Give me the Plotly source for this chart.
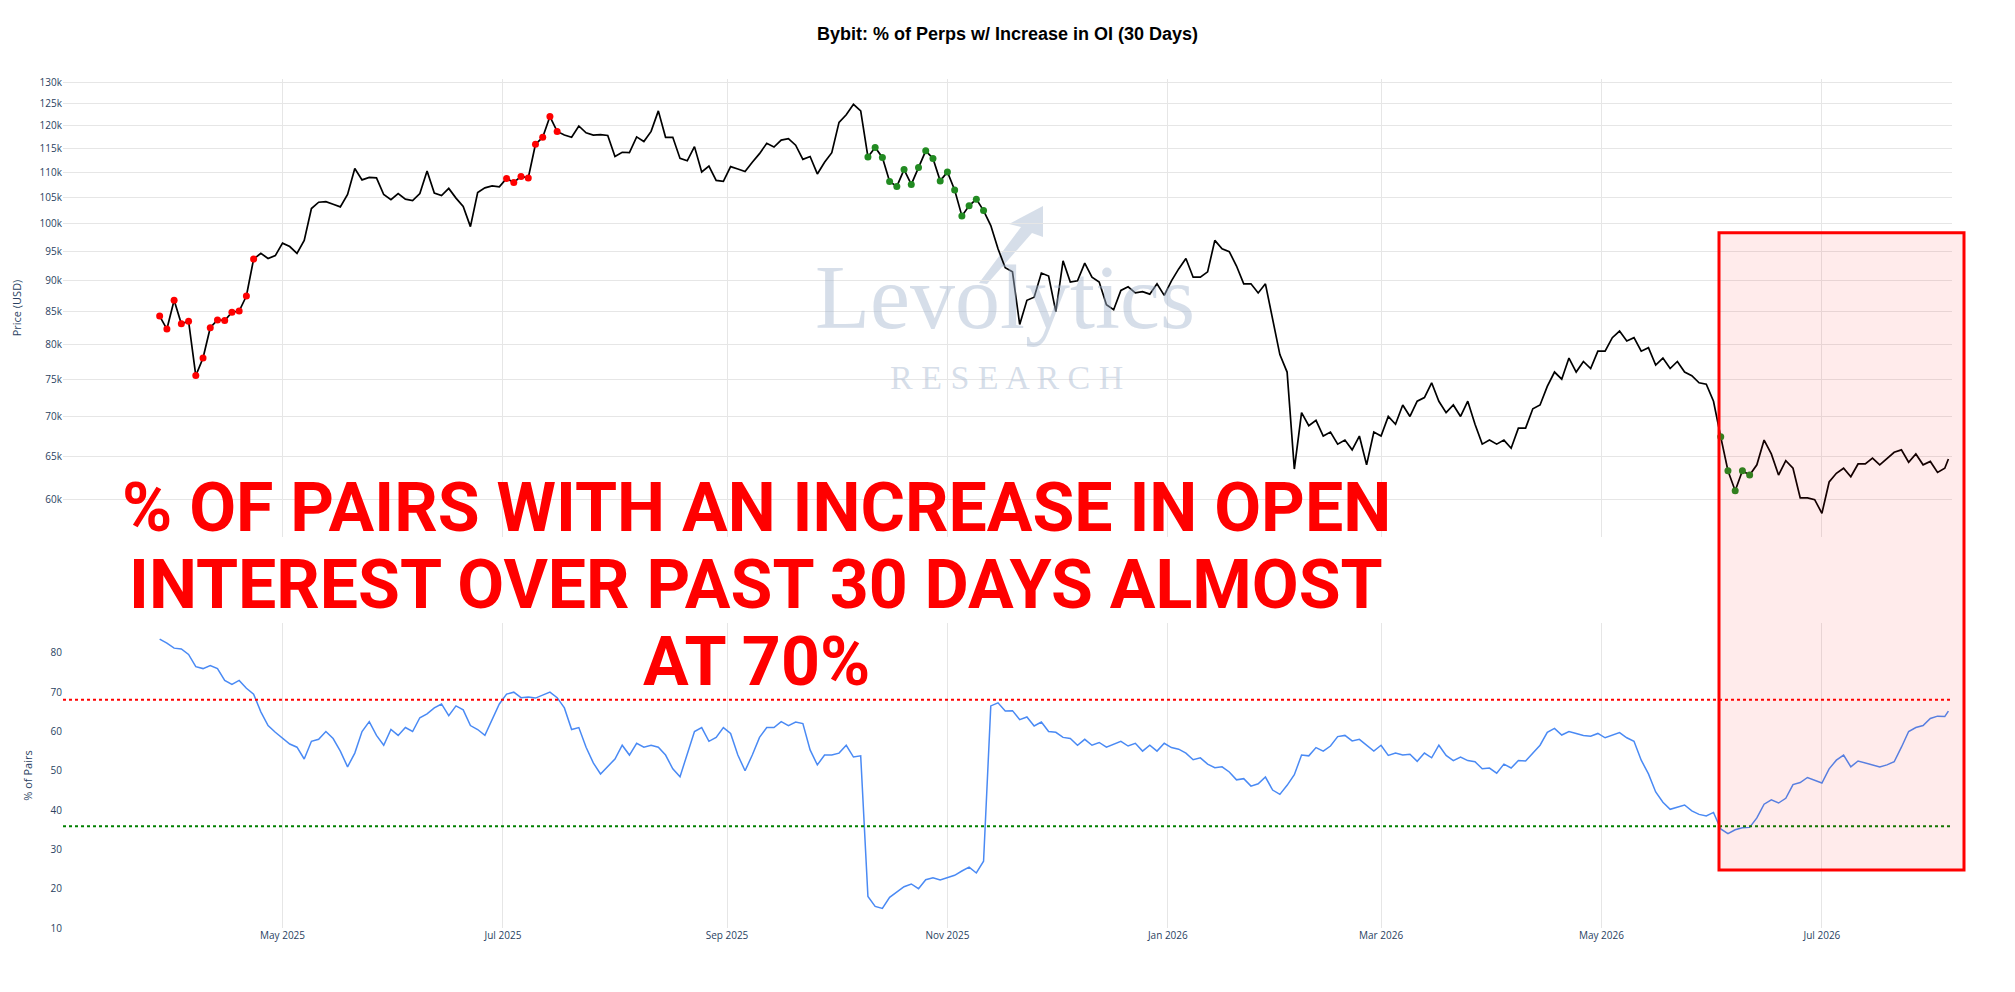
import pandas as pd
import plotly.graph_objects as go

# ---------------- data ----------------
dates = list(pd.date_range("2025-03-28", "2026-08-04", freq="2D")) + [pd.Timestamp("2026-08-05")]

price_k = [
    # 2025 Mar
    84.3, 82.3,
    # Apr
    86.8, 83.1, 83.5, 75.5, 78.0, 82.5, 83.7, 83.6, 84.9, 85.1, 87.5, 93.7, 94.7, 93.8, 94.3,
    # May
    96.5, 95.9, 94.7, 97.0, 102.9, 104.1, 104.2, 103.7, 103.2, 105.6, 110.8, 108.5, 109.0, 108.9, 105.6, 104.6,
    # Jun
    105.8, 104.7, 104.4, 105.8, 110.3, 105.9, 105.4, 106.8, 104.9, 103.3, 99.5, 106.0, 106.9, 107.3, 107.1,
    # Jul
    108.8, 108.0, 109.2, 108.9, 115.9, 117.4, 122.0, 118.7, 117.9, 117.4, 119.9, 118.4, 117.9, 118.0, 117.8,
    # Aug
    113.3, 114.2, 114.1, 117.5, 116.5, 118.7, 123.3, 117.4, 117.4, 112.9, 112.4, 115.4, 110.1, 111.3, 108.4, 108.2,
    # Sep
    111.2, 110.7, 110.2, 112.1, 113.9, 116.1, 115.3, 116.8, 117.1, 115.7, 112.7, 113.3, 109.7, 112.1, 114.1,
    # Oct
    120.7, 122.4, 124.8, 123.3, 113.2, 115.2, 113.1, 108.2, 107.2, 110.6, 107.6, 111.0, 114.5, 112.9, 108.3,
    # Nov
    110.1, 106.5, 101.5, 103.4, 104.7, 102.5, 99.7, 95.5, 92.2, 91.5, 83.0, 86.8, 87.3, 91.3, 90.8,
    # Dec
    85.0, 93.4, 89.8, 90.0, 93.0, 90.6, 89.8, 86.1, 85.3, 88.4, 89.0, 88.0, 88.2, 87.8, 89.5, 87.6,
    # 2026 Jan
    90.0, 92.0, 93.8, 90.6, 90.6, 91.5, 97.0, 95.5, 95.0, 92.5, 89.5, 89.5, 88.0, 89.5, 84.0,
    # Feb
    78.5, 76.0, 63.5, 70.5, 68.8, 69.5, 67.5, 68.0, 66.5, 67.0, 65.8, 67.5, 64.0, 68.0,
    # Mar
    67.5, 70.0, 69.0, 71.5, 70.0, 72.0, 72.5, 74.5, 72.0, 70.5, 71.5, 70.0, 72.0, 69.0, 66.5, 67.0,
    # Apr
    66.5, 67.0, 66.0, 68.5, 68.5, 71.0, 71.5, 74.0, 76.0, 75.0, 78.0, 76.0, 77.5, 76.5, 79.0,
    # May
    79.0, 81.0, 82.0, 80.5, 81.0, 79.0, 79.5, 77.0, 78.0, 76.5, 77.5, 76.0, 75.5, 74.5, 74.3,
    # Jun
    72.0, 67.4, 63.3, 61.0, 63.3, 62.8, 64.0, 67.0, 65.3, 62.8, 64.5, 63.6, 60.2, 60.2, 60.0,
    # Jul
    58.5, 62.0, 63.0, 63.6, 62.6, 64.1, 64.1, 64.8, 64.0, 64.8, 65.5, 65.8, 64.3, 65.3, 64.0, 64.4,
    # Aug
    63.1, 63.6, 64.7,
]

pct_pairs = [
    # 2025 Mar
    83.5, 82.5,
    # Apr
    81.2, 81.0, 79.6, 76.5, 76.0, 76.8, 76.0, 73.0, 72.0, 73.0, 71.0, 69.5, 65.0, 61.5, 59.8,
    # May
    58.2, 56.8, 56.0, 53.0, 57.5, 58.0, 60.0, 58.2, 55.0, 51.0, 54.5, 60.0, 62.5, 59.0, 56.5, 60.5,
    # Jun
    59.0, 61.0, 60.0, 63.5, 64.5, 66.0, 67.0, 64.0, 66.5, 65.5, 61.5, 60.5, 59.0, 63.0, 67.0,
    # Jul
    69.5, 70.0, 68.6, 68.8, 68.5, 69.3, 70.0, 68.6, 66.0, 60.5, 61.0, 56.0, 52.0, 49.2, 51.0,
    # Aug
    53.0, 56.5, 54.0, 57.0, 56.0, 56.5, 56.0, 54.0, 50.5, 48.5, 54.0, 60.0, 61.0, 57.5, 58.5, 61.0,
    # Sep
    59.5, 54.0, 50.0, 54.0, 58.5, 61.0, 61.0, 62.5, 61.5, 62.4, 62.0, 55.3, 51.5, 54.0, 54.0,
    # Oct
    54.5, 56.5, 53.5, 53.8, 18.0, 15.5, 15.0, 17.8, 19.2, 20.5, 21.2, 20.0, 22.3, 22.8, 22.2,
    # Nov
    22.8, 23.4, 24.5, 25.5, 24.0, 27.0, 66.5, 67.3, 65.2, 65.3, 63.0, 63.7, 61.4, 62.4, 60.0,
    # Dec
    59.8, 58.5, 58.2, 56.5, 58.0, 56.5, 57.2, 56.0, 56.8, 57.5, 56.3, 57.0, 55.0, 56.5, 55.0, 57.0,
    # 2026 Jan
    55.9, 55.5, 54.5, 52.8, 53.3, 51.7, 50.8, 51.0, 49.7, 47.7, 48.0, 46.1, 46.7, 48.4, 45.1,
    # Feb
    44.0, 46.3, 49.0, 54.0, 53.8, 55.9, 55.0, 56.3, 58.7, 59.0, 57.6, 58.0, 56.4, 55.0,
    # Mar
    56.5, 53.9, 54.5, 54.0, 54.2, 52.4, 54.5, 53.3, 56.5, 53.9, 52.6, 53.5, 52.6, 52.3, 50.5, 50.7,
    # Apr
    49.4, 51.7, 50.7, 52.6, 52.5, 54.4, 56.5, 59.8, 60.8, 59.1, 60.0, 59.5, 59.0, 58.8, 59.5,
    # May
    58.4, 59.1, 59.7, 58.4, 57.5, 52.7, 49.2, 44.6, 42.0, 40.2, 40.8, 41.3, 39.8, 38.9, 38.5,
    # Jun
    39.4, 35.2, 34.0, 35.0, 35.5, 35.6, 38.0, 41.5, 42.6, 41.8, 43.0, 46.5, 47.0, 48.3, 47.5,
    # Jul
    46.9, 50.5, 52.7, 54.0, 51.0, 52.5, 52.0, 51.5, 51.0, 51.5, 52.3, 56.0, 60.0, 61.0, 61.5, 63.3,
    # Aug
    63.9, 63.8, 65.2,
]

assert len(dates) == len(price_k) == len(pct_pairs), (len(dates), len(price_k), len(pct_pairs))

UPPER_LEVEL = 68.1
LOWER_LEVEL = 35.9

price_tick_k = [60, 65, 70, 75, 80, 85, 90, 95, 100, 105, 110, 115, 120, 125, 130]
price_tick_labels = [f"{v}k" for v in price_tick_k]
pct_ticks = [10, 20, 30, 40, 50, 60, 70, 80]

TITLE = "Bybit: % of Perps w/ Increase in OI (30 Days)"
CALLOUT_LINES = ["% OF PAIRS WITH AN INCREASE IN OPEN",
                 "INTEREST OVER PAST 30 DAYS ALMOST",
                 "AT 70%"]

# ---------------- derived ----------------
price = [p * 1000 for p in price_k]
red_i = [i for i, q in enumerate(pct_pairs) if q > UPPER_LEVEL]
green_i = [i for i, q in enumerate(pct_pairs) if q < LOWER_LEVEL]

# ---------------- geometry ----------------
W, H = 2015, 992
ML, MR, MT, MB = 63, 63, 79, 64
PW, PH = W - ML - MR, H - MT - MB


def pp(x, y):
    """pixel -> paper coords"""
    return (x - ML) / PW, (H - MB - y) / PH


GRID = "#e6e6e6"
TXT = "#2a3f5f"

fig = go.Figure()
fig.add_trace(go.Scatter(x=dates, y=price, mode="lines", xaxis="x", yaxis="y",
                         line=dict(color="black", width=1.7), hoverinfo="skip"))
fig.add_trace(go.Scatter(x=[dates[i] for i in red_i], y=[price[i] for i in red_i],
                         mode="markers", xaxis="x", yaxis="y",
                         marker=dict(color="red", size=7), hoverinfo="skip"))
fig.add_trace(go.Scatter(x=[dates[i] for i in green_i], y=[price[i] for i in green_i],
                         mode="markers", xaxis="x", yaxis="y",
                         marker=dict(color="forestgreen", size=7), hoverinfo="skip"))
fig.add_trace(go.Scatter(x=dates, y=pct_pairs, mode="lines", xaxis="x2", yaxis="y2",
                         line=dict(color="#4a8af4", width=1.5), hoverinfo="skip"))

XRANGE = ["2025-03-01 06:00", "2026-08-06"]
_, top_lo = pp(0, 537)
_, bot_hi = pp(0, 623)

fig.update_layout(
    width=W, height=H,
    template="plotly_white",
    showlegend=False,
    paper_bgcolor="white", plot_bgcolor="white",
    margin=dict(l=ML, r=MR, t=MT, b=MB),
    font=dict(family="Open Sans, verdana, arial, sans-serif", size=10, color=TXT),
    title=dict(text=TITLE, x=0.5, xanchor="center", y=1 - 33.5 / H, yanchor="middle",
               font=dict(family="Liberation Sans, Arial", size=18, color="black", weight="bold")),
    xaxis=dict(domain=[0, 1], anchor="y", range=XRANGE, type="date",
               dtick="M2", tick0="2025-01-01", showticklabels=False,
               showgrid=True, gridcolor=GRID, zeroline=False, showline=False),
    yaxis=dict(domain=[top_lo, 1], type="log",
               range=[4.7481, 5.1166],
               tickvals=[v * 1000 for v in price_tick_k], ticktext=price_tick_labels,
               showgrid=True, gridcolor=GRID, zeroline=False,
               title=dict(text="Price (USD)", font=dict(size=11))),
    xaxis2=dict(domain=[0, 1], anchor="y2", range=XRANGE, type="date",
                dtick="M2", tick0="2025-01-01", tickformat="%b %Y",
                showgrid=True, gridcolor=GRID, zeroline=False, showline=False),
    yaxis2=dict(domain=[0, bot_hi], range=[10.0, 87.6],
                tickvals=pct_ticks, showgrid=False, zeroline=False,
                title=dict(text="% of Pairs", font=dict(size=11))),
)

# threshold lines
fig.add_shape(type="line", xref="x2 domain", x0=0, x1=1, yref="y2", y0=UPPER_LEVEL, y1=UPPER_LEVEL,
              line=dict(color="red", width=2, dash="dot"))
fig.add_shape(type="line", xref="x2 domain", x0=0, x1=1, yref="y2", y0=LOWER_LEVEL, y1=LOWER_LEVEL,
              line=dict(color="green", width=2, dash="dot"))

# highlight box
bx0, by0 = pp(1719, 870)
bx1, by1 = pp(1964, 232.7)
fig.add_shape(type="rect", xref="paper", yref="paper", x0=bx0, x1=bx1, y0=by0, y1=by1,
              line=dict(color="red", width=3), fillcolor="rgba(255,0,0,0.08)", layer="above")

# watermark
WM = "rgba(163,181,206,0.45)"
cx, cy = pp(1005, 298)
fig.add_annotation(text="Levolytics", xref="paper", yref="paper", x=cx, y=cy,
                   xanchor="center", yanchor="middle", showarrow=False,
                   font=dict(family="Liberation Serif, Times New Roman, serif", size=90, color=WM))
cx, cy = pp(1006, 377)
fig.add_annotation(text="R E S E A R C H", xref="paper", yref="paper", x=cx, y=cy,
                   xanchor="center", yanchor="middle", showarrow=False,
                   font=dict(family="Liberation Serif, Times New Roman, serif", size=34, color=WM))
arrow_pts = [(1043, 206), (1009, 224), (1021, 227), (979, 283), (987, 284), (1032, 233), (1043, 237)]
pts = [pp(x, y) for x, y in arrow_pts]
path = "M " + " L ".join(f"{x:.5f},{y:.5f}" for x, y in pts) + " Z"
fig.add_shape(type="path", path=path, xref="paper", yref="paper",
              fillcolor=WM, line=dict(width=0), layer="below")

# callout text
for line, ypix in zip(CALLOUT_LINES, [507.6, 584.7, 661.8]):
    ax, ay = pp(756, ypix)
    fig.add_annotation(text=line, xref="paper", yref="paper", x=ax, y=ay,
                       xanchor="center", yanchor="middle", showarrow=False,
                       font=dict(family="Roboto, Liberation Sans, sans-serif", size=68,
                                 color="#ff0000", weight="bold"))

fig.write_html("out.html", config={"displayModeBar": False},
               post_script="document.body.style.margin='0';document.body.style.overflow='hidden';")
